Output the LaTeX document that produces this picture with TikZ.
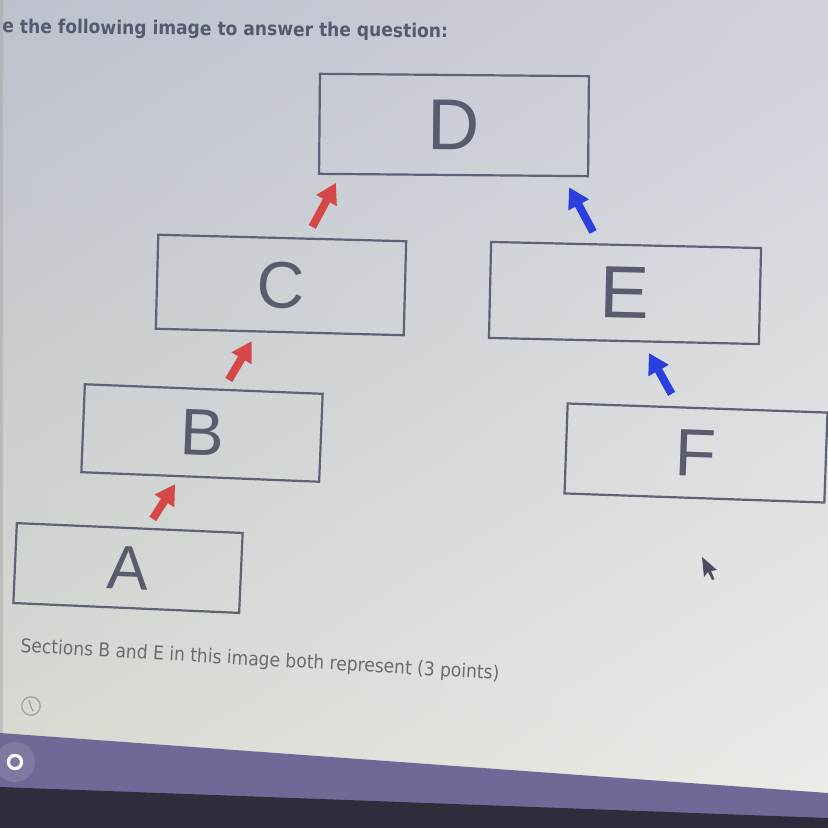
\documentclass[tikz,border=0pt]{standalone}
\usepackage{fontspec}
\setmainfont{Liberation Sans}
\newfontfamily\uifont{DejaVu Sans}
\usetikzlibrary{arrows.meta,calc,shadings}
\definecolor{bgUL}{HTML}{BDC1CD}
\definecolor{bgUR}{HTML}{D0D2DC}
\definecolor{bgLL}{HTML}{D9DDD1}
\definecolor{bgLR}{HTML}{EBEDE7}
\definecolor{boxline}{HTML}{5D6275}
\definecolor{letter}{HTML}{595C6D}
\definecolor{arrred}{HTML}{D64848}
\definecolor{arrblue}{HTML}{2B3FE0}
\definecolor{titlec}{HTML}{545B6E}
\definecolor{qc}{HTML}{686C6E}
\definecolor{band}{HTML}{6E6A98}
\definecolor{bandlight}{HTML}{8683AB}
\definecolor{darkband}{HTML}{2E2D3C}
\definecolor{iconc}{HTML}{9DA19E}
\definecolor{cursorc}{HTML}{4A4E60}
\begin{document}
\begin{tikzpicture}[x=0.5pt,y=-0.5pt,
  box/.style={draw=boxline, line width=1.1pt, inner sep=0pt, text=letter},
  redarrow/.style={draw=arrred, line width=4pt, -{Triangle[length=10pt,width=11pt]}},
  bluearrow/.style={draw=arrblue, line width=4pt, -{Triangle[length=10pt,width=11pt]}},
  big/.style={font=\fontsize{#1}{#1}\selectfont}]
\useasboundingbox (0,0) rectangle (828,828);
\clip (0,0) rectangle (828,828);
% screen background
\shade[upper left=bgUL, upper right=bgUR, lower left=bgLL, lower right=bgLR] (0,0) rectangle (828,828);
\fill[black!35, opacity=0.5] (0,0) rectangle (3,740);
% boxes
\node[box, big=36, minimum width=134.5pt, minimum height=50pt, rotate=-0.5] (D) at (454,125) {D};
\node[box, big=33, minimum width=124pt, minimum height=47pt, rotate=-1.5] (C) at (281,285) {C};
\node[box, big=37, minimum width=135pt, minimum height=48pt, rotate=-1.3] (E) at (625,293) {E};
\node[box, big=33, minimum width=119pt, minimum height=44pt, rotate=-2.3] (B) at (202,433) {B};
\node[box, big=33.5, minimum width=130pt, minimum height=45pt, rotate=-2] (F) at (696,453) {F};
\node[box, big=31, minimum width=113pt, minimum height=40pt, rotate=-2.5] (A) at (128,568) {A};
% arrows
\draw[redarrow] ([shift={(23,-8)}]A.north) -- ([shift={(-25,6)}]B.south);
\draw[redarrow] ([shift={(25,-8)}]B.north) -- ([shift={(-28,8)}]C.south);
\draw[redarrow] ([shift={(30,-10)}]C.north) -- ([shift={(18,8)}]D.south west);
\draw[bluearrow] ([shift={(-26,-13)}]F.north) -- ([shift={(25,11)}]E.south);
\draw[bluearrow] ([shift={(-33,-12)}]E.north) -- ([shift={(-20,10)}]D.south east);
% texts
\node[anchor=base west, inner sep=0pt, text=titlec, rotate=-0.6,
      font=\uifont\bfseries\fontsize{9.5}{9.5}\selectfont] (title) at (2,33)
      {\scalebox{0.9}[1]{e the following image to answer the question:}};
\node[anchor=base west, inner sep=0pt, text=qc, rotate=-3.3,
      font=\uifont\fontsize{9.5}{9.5}\selectfont] (question) at (20,652)
      {\scalebox{0.9}[1]{Sections B and E in this image both represent (3 points)}};
% clock icon
\draw[iconc, line width=0.6pt] (31,706) circle (4.6pt);
\draw[iconc, line width=0.6pt] (31,707) -- (29,700) (31,707) -- (33,711);
% cursor
\fill[cursorc] (702,557) -- (704,577) -- (708,572) -- (712,580) -- (714.5,579) -- (711,571) -- (717,570) -- cycle;
% bottom bars
\fill[band] (0,733) -- (828,793) -- (828,828) -- (0,828) -- cycle;
\fill[bandlight, opacity=0.6] (15,762) circle (10pt);
\fill[darkband] (0,787) -- (828,818) -- (828,828) -- (0,828) -- cycle;
\draw[white, line width=1.6pt] (15,762) circle (3.3pt);
\end{tikzpicture}
\end{document}
